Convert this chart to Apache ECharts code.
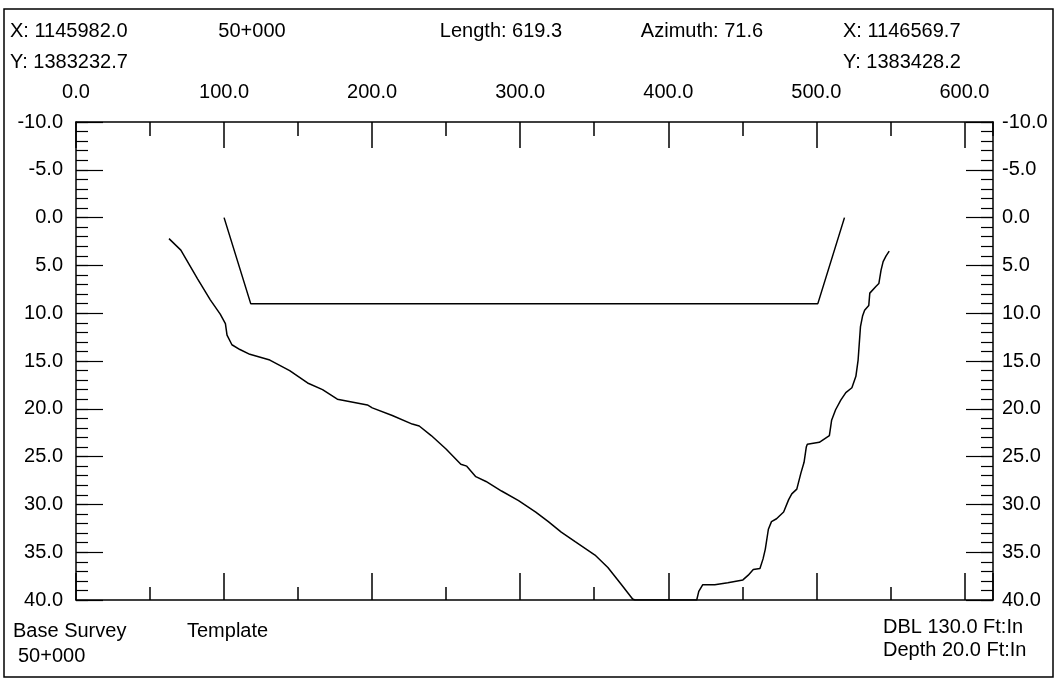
<!DOCTYPE html>
<html>
<head>
<meta charset="utf-8">
<script src="https://cdn.jsdelivr.net/npm/echarts@6.0.0/dist/echarts.min.js"></script>
<style>
html,body{margin:0;padding:0;background:#fff;}
#chart{width:1060px;height:684px;}
</style>
</head>
<body>
<div id="chart"></div>
<script>
// ---- data (station along section, depth) ----
const templateStation = [100, 118, 501, 519];
const templateDepth   = [0, 9, 9, 0];

const groundStation = [62.8, 70.8, 82.1, 90.7, 97.4, 100.9, 102.0, 105.3, 110.7, 117.4,
  130.9, 144.3, 156.4, 166.5, 176.5, 196.8, 200.1, 213.6, 227.1, 231.8,
  239.9, 249.9, 259.9, 263.9, 270.0, 276.9, 287.4, 298.9, 310.5, 319.0,
  327.7, 337.1, 350.5, 359.2, 367.9, 375.9, 377.5, 419.2, 420.6, 423.3,
  431.4, 440.2, 450.4, 454.0, 457.4, 461.9, 464.0, 465.5, 467.6, 469.7,
  473.1, 477.9, 481.3, 483.4, 486.8, 489.6, 491.7, 493.2, 493.9, 502.0,
  508.8, 510.3, 513.0, 516.5, 519.9, 524.0, 526.7, 528.2, 529.8, 531.2,
  532.6, 535.4, 536.1, 540.2, 542.2, 543.7, 545.1, 547.1, 549.2];
const groundDepth = [2.2, 3.4, 6.4, 8.6, 10.1, 11.1, 12.3, 13.3, 13.8, 14.3,
  14.9, 16.0, 17.3, 18.0, 19.0, 19.6, 19.9, 20.7, 21.6, 21.8,
  22.8, 24.2, 25.8, 26.0, 27.1, 27.6, 28.6, 29.6, 30.8, 31.8,
  32.9, 33.9, 35.3, 36.6, 38.3, 39.9, 40.0, 40.0, 39.1, 38.4,
  38.4, 38.2, 37.9, 37.4, 36.8, 36.7, 35.7, 34.7, 32.6, 31.8,
  31.5, 30.8, 29.5, 28.9, 28.4, 26.7, 25.6, 24.0, 23.7, 23.5,
  22.8, 21.2, 20.1, 19.1, 18.3, 17.8, 16.6, 14.9, 11.4, 10.3,
  9.7, 9.2, 7.9, 7.2, 6.9, 5.5, 4.6, 4.0, 3.5];

const stationMin = 0, stationMax = 619.3;
const depthMin = -10, depthMax = 40;

const headerLeft  = ['X: 1145982.0', 'Y: 1383232.7'];
const headerMid   = ['50+000', 'Length: 619.3', 'Azimuth: 71.6'];
const headerRight = ['X: 1146569.7', 'Y: 1383428.2'];
const footerLeft  = ['Base Survey', '50+000', 'Template'];
const footerRight = ['DBL 130.0 Ft:In', 'Depth 20.0 Ft:In'];

// ---- chart ----
const FONT = 'Liberation Sans, Arial, sans-serif';
const INK = '#000';
const chart = echarts.init(document.getElementById('chart'), null, {renderer: 'canvas'});

function pairs(xs, ys) { return xs.map((x, i) => [x, ys[i]]); }

function xAx(pos, interval, tickLen, showLabel, showLine) {
  return {
    type: 'value', position: pos, gridIndex: 0, offset: 0,
    min: stationMin, max: stationMax, interval: interval,
    axisLine: {show: showLine, onZero: false, lineStyle: {color: INK, width: 1.5}},
    axisTick: {show: true, inside: true, length: tickLen, lineStyle: {color: INK, width: 1.5}},
    axisLabel: {show: showLabel, margin: 20, color: INK, fontSize: 20, fontFamily: FONT,
      showMaxLabel: false,
      formatter: v => (v % 100 === 0 && v <= 600) ? v.toFixed(1) : ''},
    splitLine: {show: false}
  };
}
function yAx(pos, interval, tickLen, showLabel, showLine, margin) {
  return {
    type: 'value', position: pos, gridIndex: 0, inverse: true, offset: 0,
    min: depthMin, max: depthMax, interval: interval,
    axisLine: {show: showLine, onZero: false, lineStyle: {color: INK, width: 1.5}},
    axisTick: {show: true, inside: true, length: tickLen, lineStyle: {color: INK, width: 1.2}},
    axisLabel: {show: showLabel, margin: margin, color: INK, fontSize: 20, fontFamily: FONT,
      formatter: v => v.toFixed(1)},
    splitLine: {show: false}
  };
}

function txt(x, y, s, align) {
  return {type: 'text', x: x, y: y, silent: true,
    style: {text: s, fill: INK, fontSize: 20, fontFamily: FONT,
      align: align || 'left', verticalAlign: 'middle'}};
}

const option = {
  backgroundColor: '#fff',
  animation: false,
  grid: {left: 76, right: 67, top: 122, bottom: 84, containLabel: false},
  xAxis: [
    xAx('top', 100, 26, true, true),
    xAx('top', 50, 14, false, false),
    xAx('bottom', 100, 27, false, true),
    xAx('bottom', 50, 13, false, false)
  ],
  yAxis: [
    yAx('left', 5, 27, true, true, 13),
    yAx('left', 1, 12, false, false, 13),
    yAx('right', 5, 27, true, true, 9),
    yAx('right', 1, 12, false, false, 9)
  ],
  series: [
    {name: 'Template', type: 'line', xAxisIndex: 0, yAxisIndex: 0,
      data: pairs(templateStation, templateDepth), showSymbol: false,
      lineStyle: {color: INK, width: 1.5}},
    {name: 'Base Survey', type: 'line', xAxisIndex: 0, yAxisIndex: 0,
      data: pairs(groundStation, groundDepth), showSymbol: false, clip: true,
      lineStyle: {color: INK, width: 1.5}}
  ],
  graphic: [
    {type: 'rect', silent: true, shape: {x: 4, y: 9, width: 1049, height: 668},
      style: {fill: 'none', stroke: INK, lineWidth: 1.5}},
    txt(10, 31, headerLeft[0]),
    txt(10, 62, headerLeft[1]),
    txt(252, 31, headerMid[0], 'center'),
    txt(501, 31, headerMid[1], 'center'),
    txt(702, 31, headerMid[2], 'center'),
    txt(843, 31, headerRight[0]),
    txt(843, 62, headerRight[1]),
    txt(13, 631, footerLeft[0]),
    txt(18, 656, footerLeft[1]),
    txt(187, 631, footerLeft[2]),
    txt(883, 627, footerRight[0]),
    txt(883, 650, footerRight[1])
  ]
};
chart.setOption(option);
</script>
</body>
</html>
